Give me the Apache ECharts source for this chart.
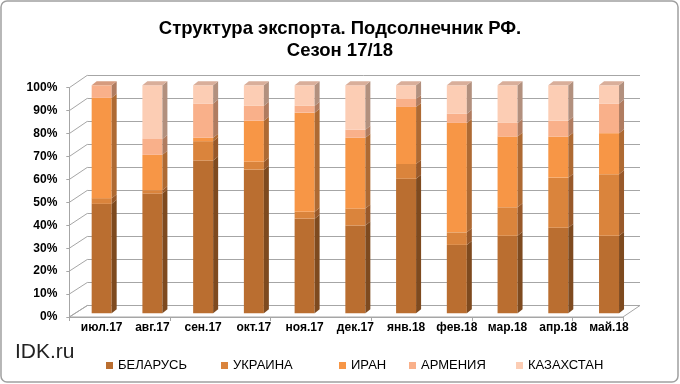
<!DOCTYPE html>
<html>
<head>
<meta charset="utf-8">
<script src="https://cdn.jsdelivr.net/npm/echarts@6/dist/echarts.min.js"></script>
<style>html,body{margin:0;padding:0;background:#fff}#c{width:680px;height:384px}</style>
</head>
<body>
<div id="c"></div>
<script>
const categories = ['июл.17','авг.17','сен.17','окт.17','ноя.17','дек.17','янв.18','фев.18','мар.18','апр.18','май.18'];
const belarus    = [48, 52.5, 67, 63, 41.5, 38.5, 59, 30, 34, 37.5, 34];
const ukraine    = [2.5, 1.5, 8.5, 3.5, 3, 7.5, 6.5, 5.5, 12.5, 22, 27];
const iran       = [44, 15.5, 1.5, 18, 43.5, 31, 25, 48, 31, 18, 18];
const armenia    = [5.5, 7, 15, 6.5, 3, 3.5, 3.5, 4, 6, 7, 13];
const kazakhstan = [0, 23.5, 8, 9, 9, 19.5, 6, 12.5, 16.5, 15.5, 8];
const seriesNames = ['БЕЛАРУСЬ','УКРАИНА','ИРАН','АРМЕНИЯ','КАЗАХСТАН'];
const yTicks = [0,10,20,30,40,50,60,70,80,90,100];

const values = [belarus, ukraine, iran, armenia, kazakhstan];
const palette = [
  {front:'#BA6E30', side:'#7E4A1F', top:'#A8673A'},
  {front:'#DA843C', side:'#98592A', top:'#B9774A'},
  {front:'#F79646', side:'#AE6A33', top:'#D08452'},
  {front:'#F9B08A', side:'#B07C60', top:'#D69B7E'},
  {front:'#FCCDB4', side:'#B2907E', top:'#D9AE9A'}
];

// percent-normalized stacking
const totals = categories.map((_, i) => values.reduce((s, arr) => s + arr[i], 0));
const stacked = values.map(() => []);
categories.forEach((_, i) => {
  let acc = 0;
  values.forEach((arr, k) => {
    const v = arr[i] / totals[i] * 100;
    stacked[k].push([i, acc, acc + v]);
    acc += v;
  });
});

function makeRender(col) {
  return function (params, api) {
    const i = api.value(0), b = api.value(1), t = api.value(2);
    if (t - b <= 0.001) return;
    const p0 = api.coord([i, b]), p1 = api.coord([i, t]);
    const w = 20, dx = 5, dy = -4;
    const x0 = p0[0] - w / 2, x1 = p0[0] + w / 2;
    const yb = p0[1], yt = p1[1];
    const children = [
      {type:'rect', shape:{x:x0, y:yt, width:w, height:yb - yt}, style:{fill:col.front}},
      {type:'polygon', shape:{points:[[x1,yt],[x1+dx,yt+dy],[x1+dx,yb+dy],[x1,yb]]}, style:{fill:col.side}}
    ];
    if (t >= 99.99) {
      children.push({type:'polygon', shape:{points:[[x0,yt],[x0+dx,yt+dy],[x1+dx,yt+dy],[x1,yt]]}, style:{fill:col.top}});
    }
    return {type:'group', children};
  };
}

const font = 'Arial, "Liberation Sans", sans-serif';
const legendLefts = [101, 216, 334, 404, 511];

const chart = echarts.init(document.getElementById('c'), null, {renderer:'canvas'});
const option = {
  backgroundColor:'#fff',
  animation:false,
  title:{
    text:'Структура экспорта. Подсолнечник РФ.\nСезон 17/18',
    left:'center', top:13,
    textStyle:{fontSize:18.5, fontWeight:'bold', color:'#000', fontFamily:font, lineHeight:22}
  },
  legend: seriesNames.map((n, k) => ({
    data:[n], left:legendLefts[k], top:354, icon:'rect', itemWidth:7, itemHeight:7,
    textStyle:{fontSize:13, color:'#000', fontFamily:font}
  })),
  grid:[
    {left:76.3, right:45.6, top:85.3, bottom:70.7},   // bars
    {left:87.3, right:40, top:75.3, bottom:78.5},     // back wall
    {left:69.3, right:57, top:87.7, bottom:67}        // front plane
  ],
  xAxis:[
    {gridIndex:0, type:'category', data:categories, axisLine:{show:false}, axisTick:{show:false},
     axisLabel:{margin:8, fontSize:12, fontWeight:'bold', color:'#000', fontFamily:font, interval:0}},
    {gridIndex:1, type:'category', data:categories, show:false},
    {gridIndex:2, type:'category', data:categories, axisLine:{lineStyle:{color:'#a6a6a6'}},
     axisTick:{show:true, length:4, lineStyle:{color:'#a6a6a6'}}, axisLabel:{show:false}}
  ],
  yAxis:[
    {gridIndex:0, type:'value', min:0, max:100, interval:10, show:false},
    {gridIndex:1, type:'value', min:0, max:100, interval:10, axisLine:{show:false}, axisTick:{show:false},
     axisLabel:{show:false}, splitLine:{lineStyle:{color:'#a6a6a6', width:1}}},
    {gridIndex:2, type:'value', min:0, max:100, interval:10, splitLine:{show:false},
     axisLine:{show:true, lineStyle:{color:'#a6a6a6'}}, axisTick:{show:true, length:3, lineStyle:{color:'#a6a6a6'}},
     axisLabel:{margin:12, fontSize:12, fontWeight:'bold', color:'#000', fontFamily:font,
       formatter: v => yTicks.includes(v) ? v + '%' : ''}}
  ],
  series: seriesNames.map((n, k) => ({
    name:n, type:'custom', xAxisIndex:0, yAxisIndex:0, z:5,
    itemStyle:{color:palette[k].front},
    renderItem: makeRender(palette[k]),
    encode:{x:0, y:[1,2]},
    data: stacked[k]
  }))
};
chart.setOption(option);

// decorative 3D walls: left wall diagonals and floor
const g = [];
const fx = 69.3, bx = 87.3, frx = 623, brx = 640;
const f0 = chart.convertToPixel({yAxisIndex:2}, 0);
const b0 = chart.convertToPixel({yAxisIndex:1}, 0);
g.push({type:'polygon', z:-1, shape:{points:[[fx,f0],[frx,f0],[brx,b0],[bx,b0]]},
  style:{fill:'#fff', stroke:'#a6a6a6', lineWidth:1}});
yTicks.forEach(v => {
  const yf = chart.convertToPixel({yAxisIndex:2}, v);
  const yb = chart.convertToPixel({yAxisIndex:1}, v);
  g.push({type:'line', z:-1, shape:{x1:fx, y1:yf, x2:bx, y2:yb}, style:{stroke:'#a6a6a6', lineWidth:1}});
});
g.push({type:'text', left:15, top:342, style:{text:'IDK.ru', fontSize:21, fill:'#222', fontFamily:font}});
g.push({type:'rect', z:-2, shape:{x:1, y:1, width:677, height:381, r:6},
  style:{fill:'none', stroke:'#a0a0a0', lineWidth:1.5}});
chart.setOption({graphic:g});
</script>
</body>
</html>
